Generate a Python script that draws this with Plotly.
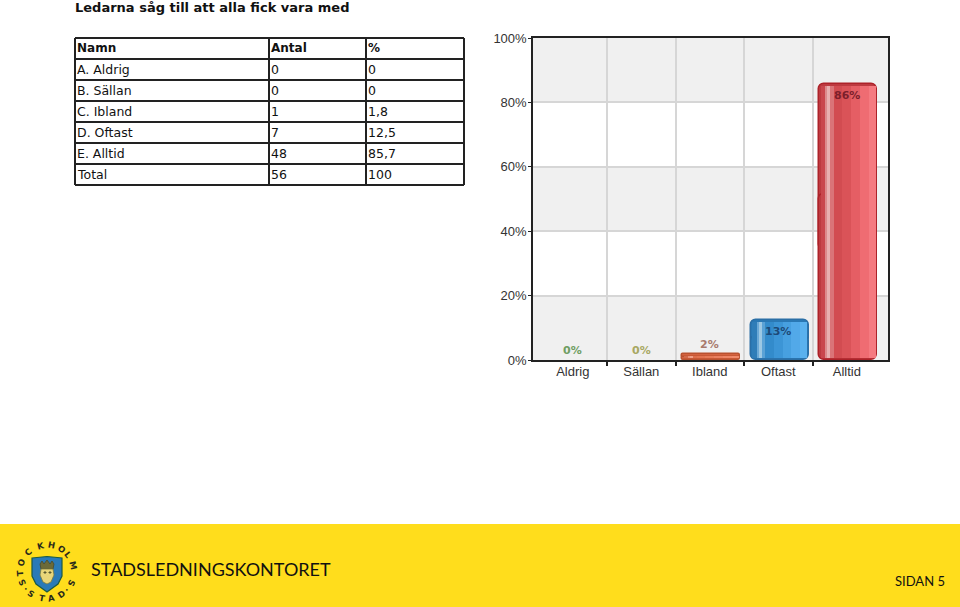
import math
import plotly.graph_objects as go

W, H = 960, 607

# ---------- data ----------
title = "Ledarna såg till att alla fick vara med"
table_header = ["Namn", "Antal", "%"]
row_names = ["A. Aldrig", "B. Sällan", "C. Ibland", "D. Oftast", "E. Alltid", "Total"]
row_counts = ["0", "0", "1", "7", "48", "56"]
row_percent = ["0", "0", "1,8", "12,5", "85,7", "100"]

categories = ["Aldrig", "Sällan", "Ibland", "Oftast", "Alltid"]
values = [0, 0, 1.8, 12.5, 85.7]
value_labels = ["0%", "0%", "2%", "13%", "86%"]
y_ticks = [0, 20, 40, 60, 80, 100]
y_tick_labels = ["0%", "20%", "40%", "60%", "80%", "100%"]

footer_org = "STADSLEDNINGSKONTORET"
footer_page = "SIDAN 5"
seal_top = "STOCKHOLMS"
seal_bottom = "STAD"

# ---------- styles ----------
label_colors = ["#6f9e62", "#a8a862", "#a87a6c", "#1d4a78", "#7c1f2b"]
label_shift = [10, 10, 10, -12, -11]
clear = "rgba(0,0,0,0)"
border_colors = [clear, clear, "#b9512f", "#2b6fa6", "#ad2229"]
base_colors = [clear, clear, "#d4623f", "#2a78b4", "#bd3a40"]
# (left fraction, right fraction, colour per category)
gloss = [
    (0.03, 0.11, "#d2694a", "#2f7db8", "#c9474d"),
    (0.11, 0.14, "#e89078", "#6aa8d6", "#dc8a8c"),
    (0.14, 0.19, "#f0a088", "#9cc8e4", "#e8b0b0"),
    (0.19, 0.25, "#dd6f4c", "#5aa2d6", "#da7478"),
    (0.25, 0.40, "#e2734f", "#338bcb", "#d24c51"),
    (0.40, 0.55, "#e67a56", "#3c95d6", "#da5358"),
    (0.55, 0.70, "#ea8060", "#47a0e0", "#e55e64"),
    (0.70, 0.85, "#ee8666", "#52a9e9", "#ef6c72"),
    (0.85, 0.97, "#f08a6a", "#5ab1ee", "#f57a80"),
]
BAR_W = 0.85
BAR_SHIFT = 0.02

fig = go.Figure()
idx = list(range(len(categories)))

# bar body: the upper part is rounded at its top on the normal axis; the lower part lives on a
# hidden reversed axis (y2 = 100 - y), so its rounded end faces the baseline.
body = dict(width=BAR_W, offset=BAR_SHIFT - BAR_W / 2, showlegend=False, hoverinfo="skip",
            marker=dict(color=base_colors, cornerradius=6, line=dict(color=border_colors, width=1.5)))
fig.add_bar(x=idx, y=[v * 0.6 for v in values], base=[v * 0.4 for v in values], **body)
fig.add_bar(x=idx, y=[v * 0.6 for v in values], base=[100 - v * 0.6 for v in values], yaxis="y2", **body)

# vertical gloss strips, inset from the bar ends (on y2 so they paint over both body parts)
INSET = 0.75
for left, right, c_orange, c_blue, c_red in gloss:
    strip_y = [max(v - 2 * INSET, 0) for v in values]
    strip_base = [100 - v + INSET for v in values]
    fig.add_bar(x=idx, y=strip_y, base=strip_base, yaxis="y2",
                width=(right - left) * BAR_W,
                offset=BAR_SHIFT + (left - 0.5) * BAR_W,
                showlegend=False, hoverinfo="skip",
                marker=dict(color=[clear, clear, c_orange, c_blue, c_red], line=dict(width=0)))

for i, (v, lab, col, sh) in enumerate(zip(values, value_labels, label_colors, label_shift)):
    fig.add_annotation(xref="x", yref="y", x=i, y=v, yshift=sh, text=f"<b>{lab}</b>", showarrow=False,
                       font=dict(family="DejaVu Sans", size=11, color=col), yanchor="middle")


def px(x):
    return x / W


def py(y):
    return 1 - y / H


def note(text, x, y, size=12.5, color="#111", family="DejaVu Sans", bold=False, anchor="left", angle=0):
    fig.add_annotation(xref="paper", yref="paper", x=px(x), y=py(y), text=f"<b>{text}</b>" if bold else text,
                       showarrow=False, xanchor=anchor, yanchor="middle", textangle=angle,
                       font=dict(family=family, size=size, color=color), borderpad=0, borderwidth=0)


def line(x0, y0, x1, y1, color="#222", width=2):
    fig.add_shape(type="line", xref="paper", yref="paper", x0=px(x0), y0=py(y0), x1=px(x1), y1=py(y1),
                  line=dict(color=color, width=width))


def path(points, fill, stroke=None, width=1):
    d = "M " + " L ".join(f"{px(a):.5f},{py(b):.5f}" for a, b in points) + " Z"
    fig.add_shape(type="path", xref="paper", yref="paper", path=d, fillcolor=fill, layer="above",
                  line=dict(color=stroke or fill, width=width))


# alternating plot bands
for lo, hi in zip(y_ticks[::2], y_ticks[1::2]):
    fig.add_shape(type="rect", xref="x domain", yref="y", x0=0, x1=1, y0=lo, y1=hi,
                  fillcolor="#f0f0f0", line_width=0, layer="below")

# table
col_x = [75, 269, 366, 464]
row_y0, row_h = 38, 21
all_rows = [table_header] + [list(r) for r in zip(row_names, row_counts, row_percent)]
for r in range(len(all_rows) + 1):
    line(col_x[0], row_y0 + r * row_h, col_x[-1], row_y0 + r * row_h)
for x in col_x:
    line(x, row_y0, x, row_y0 + len(all_rows) * row_h)
for r, row in enumerate(all_rows):
    for c, cell in enumerate(row):
        note(cell, col_x[c] + 2, row_y0 + r * row_h + 10.5, bold=(r == 0), size=12 if r == 0 else 12.5)

note(title, 75, 8, size=13, bold=True)

# footer
fig.add_shape(type="rect", xref="paper", yref="paper", x0=0, x1=1, y0=0, y1=py(524),
              fillcolor="#ffdd1c", line_width=0, layer="below")
note(footer_org, 91, 569, size=18, family="Lato", color="#111")
note(footer_page, 945, 581, size=13, family="Lato", color="#111", anchor="right")

# seal
cx, cy, rad = 46.7, 571.7, 27
top_angles = [-114, -94, -71, -43, -14, 11, 33, 52, 76, 115]
bottom_angles = [215, 191, 169, 146]
for ch, a in zip(seal_top, top_angles):
    note(ch, cx + rad * math.sin(math.radians(a)), cy - rad * math.cos(math.radians(a)),
         size=8.5, bold=True, anchor="center", angle=a, color="#2a2a1a")
for ch, a in zip(seal_bottom, bottom_angles):
    note(ch, cx + rad * math.sin(math.radians(a)), cy - rad * math.cos(math.radians(a)),
         size=8.5, bold=True, anchor="center", angle=a - 180, color="#2a2a1a")
for a in (132, 231):
    note("•", cx + rad * math.sin(math.radians(a)), cy - rad * math.cos(math.radians(a)),
         size=6, anchor="center", color="#2a2a1a")
path([(32, 558), (47, 556.5), (62, 558), (62, 576), (58, 584), (47, 592), (36, 584), (32, 576)],
     "#2a7ab8", "#1b5a46", 1.2)
path([(40, 564), (42, 561), (44, 564), (47, 560), (50, 564), (52, 561), (54, 564), (53, 569), (41, 569)],
     "#6b6a38", "#4a4a2a", 0.8)
path([(41, 569), (53, 569), (54, 575), (51, 582), (47, 584), (43, 582), (40, 575)], "#e9d67a", "#7a7a40", 0.8)
path([(44, 572), (46, 572), (46, 573), (44, 573)], "#5a5a30")
path([(49, 572), (51, 572), (51, 573), (49, 573)], "#5a5a30")

fig.update_layout(
    width=W, height=H, margin=dict(l=0, r=0, t=0, b=0), paper_bgcolor="white", plot_bgcolor="white",
    barmode="overlay", bargap=0, showlegend=False,
    xaxis=dict(domain=[533 / W, 888 / W], range=[-0.58, 4.6], tickmode="array", tickvals=idx, ticktext=categories,
               automargin=False, ticklabelstandoff=-1,
               ticks="", showgrid=False, zeroline=False, showline=True, linecolor="#222", linewidth=1.5, mirror=True,
               tickfont=dict(family="Liberation Sans", size=13, color="#333"),
               minor=dict(tickmode="array", tickvals=[i + 0.5 for i in idx[:-1]], ticks="outside", ticklen=4,
                          tickcolor="#222", tickwidth=1.5, showgrid=True, gridcolor="#d6d6d6", gridwidth=2)),
    yaxis=dict(domain=[1 - 360 / H, 1 - 38 / H], range=[0, 100], tickmode="array", tickvals=y_ticks,
               automargin=False, ticklabelstandoff=-1,
               ticktext=y_tick_labels, ticks="outside", ticklen=3, tickcolor="#222", showgrid=True,
               gridcolor="#d6d6d6", gridwidth=1.5, zeroline=False, showline=True, linecolor="#222", linewidth=1.5,
               mirror=True, tickfont=dict(family="Liberation Sans", size=13, color="#333")),
    yaxis2=dict(overlaying="y", range=[100, 0], visible=False, automargin=False),
)

fig.write_html("out.html", config=dict(displayModeBar=False),
               post_script="document.body.style.margin='0';document.body.style.overflow='hidden';")
